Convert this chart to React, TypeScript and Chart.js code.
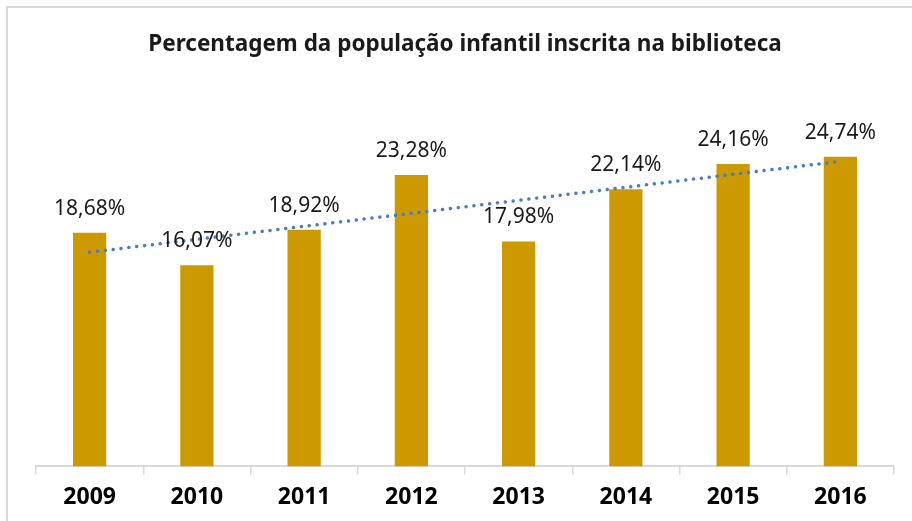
import React, { useEffect, useRef } from "react";
import { Chart, registerables } from "chart.js";

Chart.register(...registerables);

const TITLE = "Percentagem da população infantil inscrita na biblioteca";
const YEARS = ["2009", "2010", "2011", "2012", "2013", "2014", "2015", "2016"];
const VALUES = [18.68, 16.07, 18.92, 23.28, 17.98, 22.14, 24.16, 24.74];

const BAR_COLOR = "#CC9900";
const TREND_COLOR = "#4A7EC2";
const AXIS_COLOR = "#D9D9D9";

// Linear trendline (least squares) of the bar values, as in the spreadsheet chart
function linearTrend(values: number[]): number[] {
  const n = values.length;
  const xs = values.map((_, i) => i);
  const mx = xs.reduce((a, b) => a + b, 0) / n;
  const my = values.reduce((a, b) => a + b, 0) / n;
  let sxy = 0;
  let sxx = 0;
  for (let i = 0; i < n; i++) {
    sxy += (xs[i] - mx) * (values[i] - my);
    sxx += (xs[i] - mx) * (xs[i] - mx);
  }
  const slope = sxy / sxx;
  const intercept = my - slope * mx;
  return xs.map((x) => intercept + slope * x);
}

const fmt = (v: number) => v.toFixed(2).replace(".", ",") + "%";

const BAR_DATASET_INDEX = 1;

const labelPlugin = {
  id: "barValueLabels",
  afterDatasetsDraw(chart: any) {
    const ctx = chart.ctx;
    const meta = chart.getDatasetMeta(BAR_DATASET_INDEX);
    ctx.save();
    ctx.font = "21px 'Noto Sans', sans-serif";
    ctx.fillStyle = "#1A1A1A";
    ctx.textAlign = "center";
    ctx.textBaseline = "alphabetic";
    meta.data.forEach((el: any, i: number) => {
      ctx.fillText(fmt(VALUES[i]), el.x, el.y - 18);
    });
    ctx.restore();
  },
};

export default function App() {
  const canvasRef = useRef<HTMLCanvasElement | null>(null);

  useEffect(() => {
    if (!canvasRef.current) return;
    const chart = new Chart(canvasRef.current, {
      type: "bar",
      data: {
        labels: YEARS,
        datasets: [
          {
            type: "line" as const,
            data: linearTrend(VALUES),
            borderColor: TREND_COLOR,
            borderWidth: 3.5,
            borderDash: [0.1, 7.8],
            borderCapStyle: "round",
            pointRadius: 0,
            fill: false,
            tension: 0,
            order: 0,
          } as any,
          {
            type: "bar" as const,
            data: VALUES,
            backgroundColor: BAR_COLOR,
            barPercentage: 0.31,
            categoryPercentage: 1,
            order: 1,
          },
        ],
      },
      options: {
        responsive: false,
        animation: false,
        layout: { padding: { left: 36, right: 18, top: 0, bottom: 1 } },
        plugins: {
          legend: { display: false },
          tooltip: { enabled: false },
          title: {
            display: true,
            text: TITLE,
            color: "#1A1A1A",
            font: { family: "'Noto Sans', sans-serif", size: 22.5, weight: "bold" },
            padding: { top: 31, bottom: 33 },
          },
        },
        scales: {
          x: {
            grid: {
              offset: true,
              drawOnChartArea: false,
              drawTicks: true,
              tickLength: 8,
              color: AXIS_COLOR,
              lineWidth: 1.5,
            },
            border: { display: true, color: AXIS_COLOR, width: 2 },
            ticks: {
              color: "#000000",
              padding: 9,
              font: { family: "'Noto Sans', sans-serif", size: 23, weight: "bold" },
            },
          },
          y: {
            display: false,
            min: 0,
            max: 30,
          },
        },
      },
      plugins: [labelPlugin],
    });
    return () => chart.destroy();
  }, []);

  return (
    <div
      style={{
        position: "fixed",
        left: 0,
        top: 0,
        width: 912,
        height: 521,
        overflow: "hidden",
        background: "#FFFFFF",
      }}
    >
      <div
        style={{
          position: "absolute",
          left: 6,
          top: 6,
          width: 1000,
          height: 700,
          border: `2px solid ${AXIS_COLOR}`,
          boxSizing: "border-box",
        }}
      />
      <canvas
        ref={canvasRef}
        width={912}
        height={521}
        style={{ position: "absolute", left: 0, top: 0, width: 912, height: 521 }}
      />
    </div>
  );
}
